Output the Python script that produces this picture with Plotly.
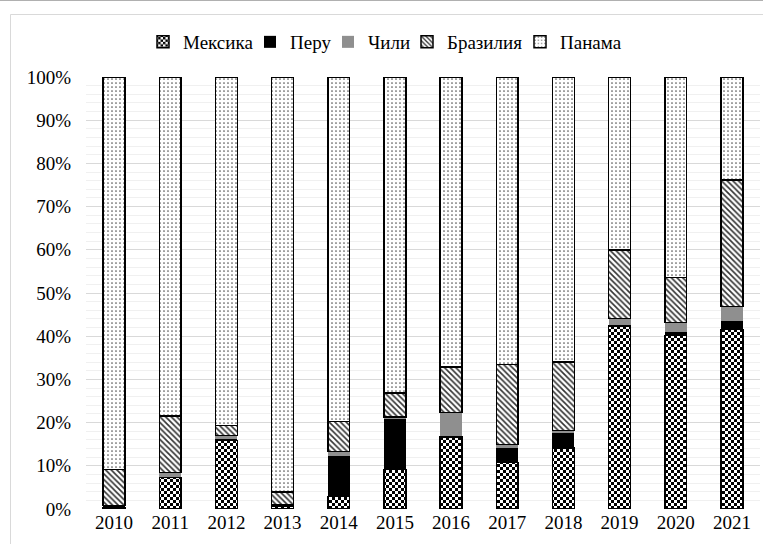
import plotly.graph_objects as go

years = ["2010", "2011", "2012", "2013", "2014", "2015", "2016", "2017", "2018", "2019", "2020", "2021"]
mexico = [0.2, 7.3, 15.9, 0.6, 2.9, 9.1, 16.7, 10.8, 14.1, 42.4, 40.2, 41.6]
peru = [0.6, 0.2, 0.4, 0.2, 9.4, 11.8, 0.2, 3.3, 3.7, 0.1, 0.7, 2.0]
chile = [0.0, 1.0, 0.7, 0.1, 1.0, 0.4, 5.4, 0.8, 0.4, 1.6, 2.3, 3.3]
brazil = [8.3, 13.0, 2.3, 3.0, 6.9, 5.5, 10.6, 18.6, 15.8, 15.9, 10.4, 29.3]
panama = [90.9, 78.5, 80.7, 96.1, 79.8, 73.2, 67.1, 66.5, 66.0, 40.0, 46.4, 23.8]
names = ["Мексика", "Перу", "Чили", "Бразилия", "Панама"]
yticks = [0, 10, 20, 30, 40, 50, 60, 70, 80, 90, 100]

FONT = "Times New Roman, Liberation Serif, serif"
FS = 19

L, R, T, B = 86, 3, 77, 35
W, H = 763, 544
pw, ph = W - L - R, H - T - B


def px(x):
    return (x - L) / pw


def py(y):
    return (H - B - y) / ph


legend_keys = ["legend", "legend2", "legend3", "legend4", "legend5"]
legend_text_x = [183, 290, 368, 447, 560]

fig = go.Figure()
fig.add_trace(go.Bar(
    x=years, y=mexico, name=names[0], legend=legend_keys[0], showlegend=True,
    marker=dict(color="white", line=dict(color="black", width=1.5),
                pattern=dict(path="M0,0H3V3H0Z M3,3H6V6H3Z", size=6,
                             fgcolor="black", bgcolor="white", fillmode="replace")),
))
fig.add_trace(go.Bar(
    x=years, y=peru, name=names[1], legend=legend_keys[1], showlegend=True,
    marker=dict(color="black", line=dict(color="black", width=0)),
))
fig.add_trace(go.Bar(
    x=years, y=chile, name=names[2], legend=legend_keys[2], showlegend=True,
    marker=dict(color="#8f8f8f", line=dict(color="#8f8f8f", width=0)),
))
fig.add_trace(go.Bar(
    x=years, y=brazil, name=names[3], legend=legend_keys[3], showlegend=True,
    marker=dict(color="white", line=dict(color="black", width=1.5),
                pattern=dict(shape="\\", size=4, solidity=0.4,
                             fgcolor="#333333", bgcolor="white", fillmode="replace")),
))
fig.add_trace(go.Bar(
    x=years, y=panama, name=names[4], legend=legend_keys[4], showlegend=True,
    marker=dict(color="white", line=dict(color="black", width=1.5),
                pattern=dict(shape=".", size=4, solidity=0.14,
                             fgcolor="#555555", bgcolor="white", fillmode="replace")),
))

shapes = [
    dict(type="line", xref="paper", yref="paper", x0=px(0), x1=px(W), y0=py(0.5), y1=py(0.5),
         line=dict(color="#b0b0b0", width=1)),
    dict(type="line", xref="paper", yref="paper", x0=px(10.5), x1=px(W), y0=py(14.5), y1=py(14.5),
         line=dict(color="#d9d9d9", width=1)),
    dict(type="line", xref="paper", yref="paper", x0=px(10.5), x1=px(10.5), y0=py(14.5), y1=py(H),
         line=dict(color="#d9d9d9", width=1)),
]

legend_layout = {}
for key, tx in zip(legend_keys, legend_text_x):
    legend_layout[key] = dict(
        orientation="h", x=px(tx - 40), xanchor="left", y=py(42), yanchor="middle",
        font=dict(family=FONT, size=FS, color="black"), bgcolor="rgba(0,0,0,0)",
        itemwidth=30,
    )

fig.update_layout(
    width=W, height=H,
    margin=dict(l=L, r=R, t=T, b=B),
    barmode="stack",
    bargap=0.61,
    showlegend=True,
    plot_bgcolor="white", paper_bgcolor="white",
    font=dict(family=FONT, size=FS, color="black"),
    shapes=shapes,
    xaxis=dict(showgrid=False, showline=False, ticks="", tickfont=dict(family=FONT, size=FS)),
    yaxis=dict(range=[0, 100], tickvals=yticks, ticktext=[f"{v}%" for v in yticks],
               showgrid=True, gridcolor="#d9d9d9", gridwidth=1, zeroline=False,
               ticklabelstandoff=14,
               minor=dict(dtick=2, showgrid=True, gridcolor="#f0f0f0", gridwidth=1),
               tickfont=dict(family=FONT, size=FS)),
    **legend_layout,
)

fig.write_html("out.html", config={"displayModeBar": False},
               post_script="document.body.style.margin='0';document.body.style.overflow='hidden';")
